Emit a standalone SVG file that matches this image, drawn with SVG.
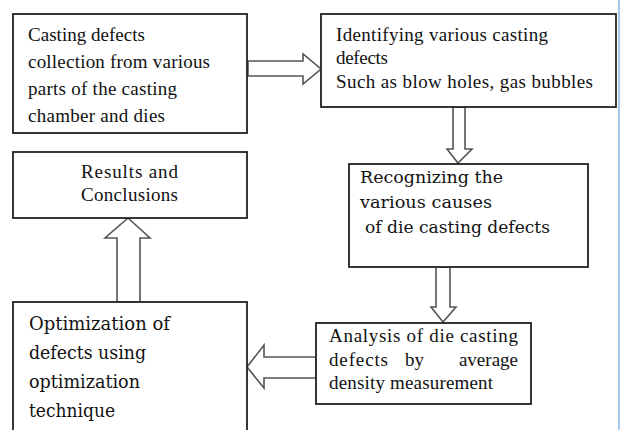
<svg xmlns="http://www.w3.org/2000/svg" width="622" height="430" viewBox="0 0 622 430">
<style>
.box{fill:#fff;stroke:#222;stroke-width:1.8}
.arr{fill:#fff;stroke:#555;stroke-width:1.6;stroke-linejoin:miter}
.t{font-family:"Liberation Serif","Times New Roman",serif;font-size:19px;fill:#111}
.c{font-family:"DejaVu Serif","Liberation Serif",serif;fill:#111}
</style>
<rect width="622" height="430" fill="#fff"/>
<line x1="619" y1="0" x2="619" y2="430" stroke="#a9c6ee" stroke-width="2"/>
<g id="connectors">
<polygon class="arr" points="248,61 303,61 303,54 321,69 303,84 303,76 248,76"/>
<polygon class="arr" points="453,107 465,107 465,149 472,149 458,163 447,149 453,149"/>
<polygon class="arr" points="436,267 450,267 450,307 456,307 443,322 431,307 436,307"/>
<polygon class="arr" points="316,357 264,357 264,345 247,367 264,388 264,378 316,378"/>
<polygon class="arr" points="117,302 117,238 105,238 128,218 150,238 140,238 140,302"/>
</g>
<g id="n1">
<rect class="box" x="13" y="14" width="234" height="119"/>
<text class="t" x="28" y="41" textLength="117" lengthAdjust="spacing">Casting defects</text>
<text class="t" x="28" y="68" textLength="182" lengthAdjust="spacing">collection  from  various</text>
<text class="t" x="28" y="95" textLength="149" lengthAdjust="spacing">parts of the casting</text>
<text class="t" x="28" y="122" textLength="137" lengthAdjust="spacing">chamber  and  dies</text>
</g>
<g id="n2">
<rect class="box" x="321" y="14" width="295" height="93"/>
<text class="t" x="336" y="40.5" textLength="212" lengthAdjust="spacing">Identifying  various  casting</text>
<text class="t" x="336" y="64" textLength="52" lengthAdjust="spacing">defects</text>
<text class="t" x="336" y="87.5" textLength="257" lengthAdjust="spacing">Such as  blow holes,  gas  bubbles</text>
</g>
<g id="n3">
<rect class="box" x="349" y="164" width="239" height="103"/>
<text class="c" font-size="16" x="360" y="183" textLength="143" lengthAdjust="spacingAndGlyphs">Recognizing the</text>
<text class="c" font-size="16" x="360" y="208" textLength="132" lengthAdjust="spacingAndGlyphs">various causes</text>
<text class="c" font-size="16" x="365" y="233" textLength="185" lengthAdjust="spacingAndGlyphs">of die casting defects</text>
</g>
<g id="n4">
<rect class="box" x="316" y="323" width="215" height="81"/>
<text class="t" x="329" y="342" textLength="189" lengthAdjust="spacing">Analysis  of die casting</text>
<text class="t" x="329" y="365.5" textLength="59" lengthAdjust="spacing">defects</text>
<text class="t" x="405" y="365.5">by</text>
<text class="t" x="518" y="365.5" text-anchor="end">average</text>
<text class="t" x="329" y="389" textLength="164" lengthAdjust="spacing">density measurement</text>
</g>
<g id="n5">
<rect class="box" x="13" y="302" width="234" height="140"/>
<text class="c" font-size="18" x="29" y="330" textLength="141" lengthAdjust="spacingAndGlyphs">Optimization of</text>
<text class="c" font-size="18" x="29" y="359" textLength="117" lengthAdjust="spacingAndGlyphs">defects using</text>
<text class="c" font-size="18" x="29" y="388" textLength="111" lengthAdjust="spacingAndGlyphs">optimization</text>
<text class="c" font-size="18" x="29" y="417" textLength="86" lengthAdjust="spacingAndGlyphs">technique</text>
</g>
<g id="n6">
<rect class="box" x="13" y="152" width="234" height="66"/>
<text class="t" x="81" y="178" textLength="97" lengthAdjust="spacing">Results  and</text>
<text class="t" x="81" y="201" textLength="97" lengthAdjust="spacing">Conclusions</text>
</g>
</svg>
